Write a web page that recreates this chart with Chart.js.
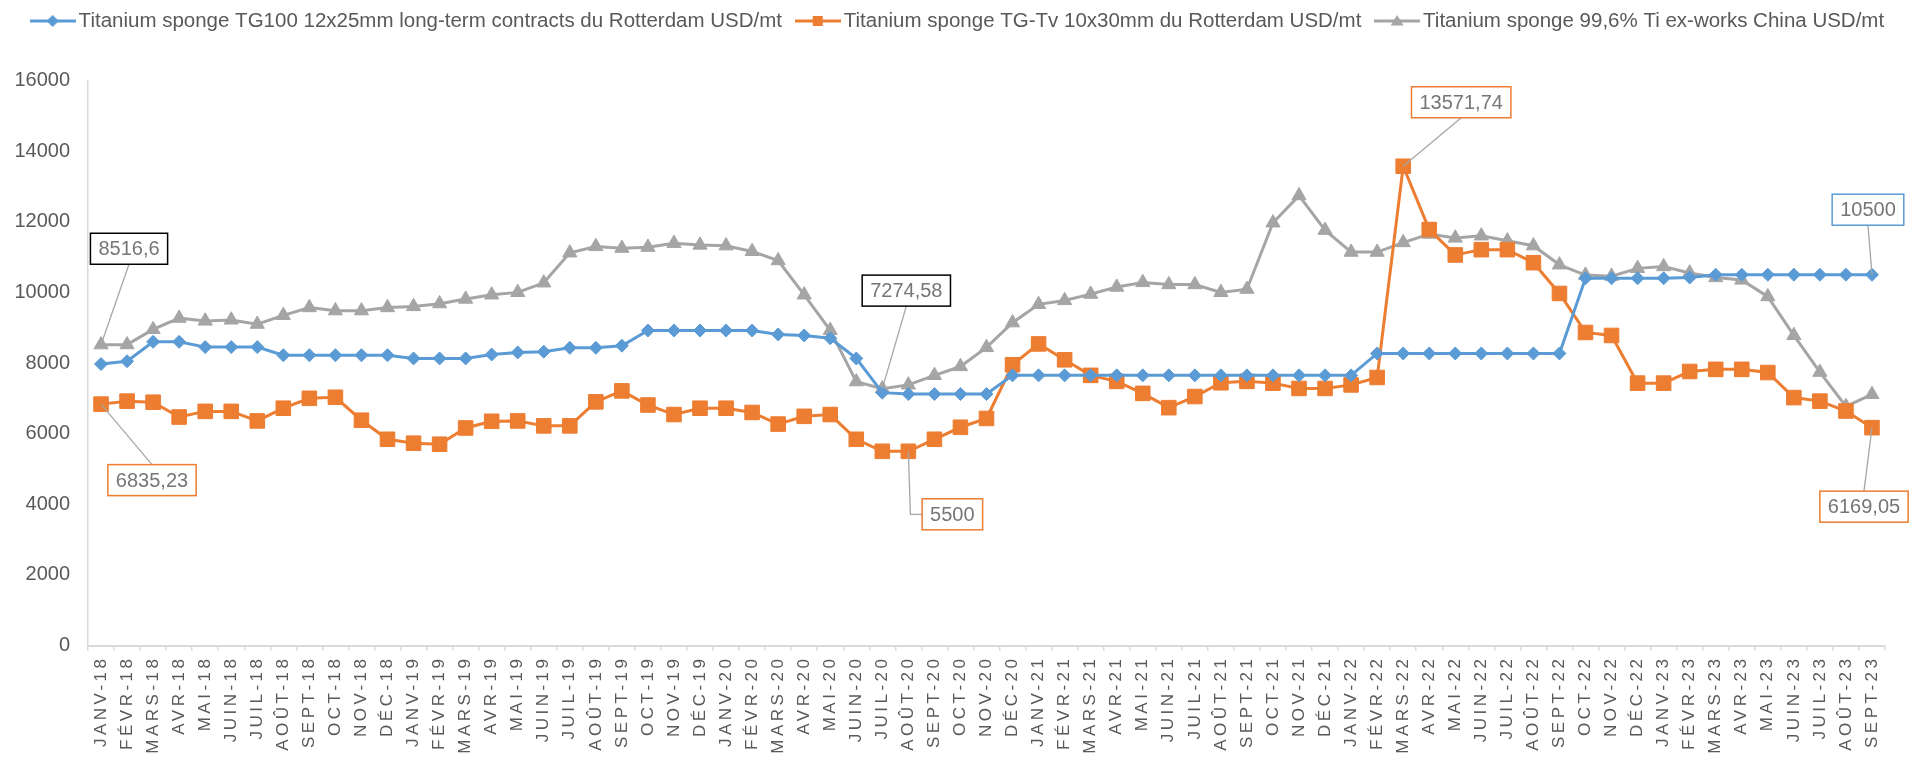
<!DOCTYPE html>
<html><head><meta charset="utf-8">
<script src="https://cdn.jsdelivr.net/npm/chart.js@4.4.0/dist/chart.umd.min.js"></script>
<style>html,body{margin:0;padding:0;background:#fff;overflow:hidden}#wrap{width:1921px;height:757px}</style>
</head><body><div id="wrap"><canvas id="c" width="1921" height="757"></canvas></div>
<script>
const categories = [
 'JANV-18','FÉVR-18','MARS-18','AVR-18','MAI-18','JUIN-18','JUIL-18','AOÛT-18','SEPT-18','OCT-18','NOV-18','DÉC-18',
 'JANV-19','FÉVR-19','MARS-19','AVR-19','MAI-19','JUIN-19','JUIL-19','AOÛT-19','SEPT-19','OCT-19','NOV-19','DÉC-19',
 'JANV-20','FÉVR-20','MARS-20','AVR-20','MAI-20','JUIN-20','JUIL-20','AOÛT-20','SEPT-20','OCT-20','NOV-20','DÉC-20',
 'JANV-21','FÉVR-21','MARS-21','AVR-21','MAI-21','JUIN-21','JUIL-21','AOÛT-21','SEPT-21','OCT-21','NOV-21','DÉC-21',
 'JANV-22','FÉVR-22','MARS-22','AVR-22','MAI-22','JUIN-22','JUIL-22','AOÛT-22','SEPT-22','OCT-22','NOV-22','DÉC-22',
 'JANV-23','FÉVR-23','MARS-23','AVR-23','MAI-23','JUIN-23','JUIL-23','AOÛT-23','SEPT-23'
];
const seriesNames = [
 'Titanium sponge TG100 12x25mm long-term contracts du Rotterdam USD/mt',
 'Titanium sponge TG-Tv 10x30mm du Rotterdam USD/mt',
 'Titanium sponge 99,6% Ti ex-works China USD/mt'
];
const tg100 = [
 7970,8050,8600,8600,8450,8450,8450,8220,8220,8220,8220,8220,
 8130,8130,8130,8240,8300,8320,8430,8430,8490,8920,8920,8920,
 8920,8920,8810,8780,8700,8130,7160,7120,7120,7120,7120,7650,
 7650,7650,7650,7650,7650,7650,7650,7650,7650,7650,7650,7650,
 7650,8270,8270,8270,8270,8270,8270,8270,8270,10400,10400,10400,
 10400,10420,10500,10500,10500,10500,10500,10500,10500
];
const tgTv = [
 6835.23,6920,6890,6470,6630,6630,6360,6720,7000,7030,6380,5840,
 5730,5700,6160,6350,6360,6220,6220,6900,7210,6810,6540,6720,
 6720,6600,6270,6490,6540,5840,5500,5500,5840,6180,6430,7950,
 8540,8090,7650,7480,7140,6735,7050,7440,7480,7430,7280,7280,
 7380,7590,13571.74,11780,11060,11210,11210,10840,9970,8865,8780,7430,
 7430,7760,7820,7820,7730,7020,6920,6640,6169.05
];
const china = [
 8516.6,8520,8950,9270,9190,9220,9100,9350,9570,9480,9480,9570,
 9600,9680,9810,9930,10000,10270,11120,11300,11250,11280,11390,11340,
 11320,11160,10900,9930,8925,7470,7274.58,7380,7650,7900,8440,9140,
 9660,9770,9950,10150,10280,10220,10220,10000,10090,11970,12740,11760,
 11140,11140,11410,11650,11540,11600,11460,11320,10780,10490,10460,10680,
 10730,10550,10420,10350,9880,8780,7740,6770,7110
];
const yTicks = [0,2000,4000,6000,8000,10000,12000,14000,16000];

const BLUE='#5B9BD5', ORANGE='#ED7D31', GREY='#A5A5A5';
const FONT="'Liberation Sans', Arial, sans-serif";

function legendIcon(color, shape){
  const c=document.createElement('canvas'); c.width=46; c.height=20;
  const x=c.getContext('2d');
  x.strokeStyle=color; x.lineWidth=3; x.beginPath(); x.moveTo(0,10); x.lineTo(46,10); x.stroke();
  x.fillStyle=color; x.beginPath();
  if(shape==='d'){ x.moveTo(23,4); x.lineTo(29,10); x.lineTo(23,16); x.lineTo(17,10); }
  else if(shape==='s'){ x.rect(18,5,10,10); }
  else { x.moveTo(23,4); x.lineTo(29.5,14.5); x.lineTo(16.5,14.5); }
  x.closePath(); x.fill();
  return c;
}
const icons=[legendIcon(BLUE,'d'),legendIcon(ORANGE,'s'),legendIcon(GREY,'t')];

const callouts=[
 {series:2,index:0,dx:28,dy:-96,edge:'#000000',leader:'bottom'},
 {series:1,index:0,dx:51,dy:76,edge:ORANGE,leader:'top'},
 {series:2,index:30,dx:24,dy:-98,edge:'#000000',leader:'bottom'},
 {series:1,index:31,dx:44,dy:63,edge:ORANGE,leader:'elbow'},
 {series:1,index:50,dx:58,dy:-64,edge:ORANGE,leader:'bottom'},
 {series:0,index:68,dx:-4,dy:-65,edge:BLUE,leader:'bottom'},
 {series:1,index:68,dx:-8,dy:79,edge:ORANGE,leader:'top'}
];

const calloutPlugin={
 id:'callouts',
 beforeInit(chart){
   const lg=chart.legend;
   const f=lg.fit; lg.fit=function(){ f.call(this); this.height+=30; };
   const d=lg.draw; lg.draw=function(){ const ctx=this.ctx; ctx.save(); ctx.translate(0,-9.25); d.apply(this,arguments); ctx.restore(); };
 },
 beforeDraw(chart){
   const s=chart.scales.x;
   if(!s._ls){ const o=s.drawLabels; s.drawLabels=function(a){ const ctx=this.ctx; ctx.save(); ctx.letterSpacing='3.5px'; o.call(this,a); ctx.restore(); }; s._ls=true; }
 },
 afterDatasetsDraw(chart){
   const ctx=chart.ctx;
   ctx.save();
   ctx.font='20px '+FONT;
   callouts.forEach(c=>{
     const pt=chart.getDatasetMeta(c.series).data[c.index];
     const val=chart.data.datasets[c.series].data[c.index];
     const txt=String(val).replace('.',',');
     const w=ctx.measureText(txt).width+16, h=31;
     const cx=pt.x+c.dx, cy=pt.y+c.dy;
     ctx.strokeStyle='#A6A6A6'; ctx.lineWidth=1.3; ctx.beginPath();
     ctx.moveTo(pt.x,pt.y);
     if(c.leader==='bottom') ctx.lineTo(cx,cy+h/2);
     else if(c.leader==='top') ctx.lineTo(cx,cy-h/2);
     else { ctx.lineTo(pt.x+2,cy); ctx.lineTo(cx-w/2,cy); }
     ctx.stroke();
     ctx.fillStyle='#ffffff'; ctx.fillRect(cx-w/2,cy-h/2,w,h);
     ctx.strokeStyle=c.edge; ctx.lineWidth=1.5; ctx.strokeRect(cx-w/2,cy-h/2,w,h);
     ctx.fillStyle='#767676'; ctx.textAlign='center'; ctx.textBaseline='middle';
     ctx.fillText(txt,cx,cy+1);
   });
   ctx.restore();
 }
};

function ds(label,data,color,style,r){
  return {label,data,borderColor:color,backgroundColor:color,borderWidth:3,tension:0,
    pointStyle:style,pointRadius:r,pointHoverRadius:r,pointBackgroundColor:color,pointBorderColor:color,pointBorderWidth:1};
}

new Chart(document.getElementById('c'),{
 type:'line',
 data:{labels:categories,datasets:[
   ds(seriesNames[0],tg100,BLUE,'rectRot',6.5),
   ds(seriesNames[1],tgTv,ORANGE,'rect',10.3),
   ds(seriesNames[2],china,GREY,'triangle',8.2)
 ]},
 options:{
   responsive:false,animation:false,devicePixelRatio:1,
   layout:{padding:{left:0,right:0,top:0,bottom:0}},
   plugins:{
     tooltip:{enabled:false},
     legend:{display:true,position:'top',
       labels:{usePointStyle:true,pointStyleWidth:31.5,padding:20,color:'#595959',font:{family:FONT,size:20.5},
         generateLabels(chart){
           const items=Chart.defaults.plugins.legend.labels.generateLabels(chart);
           items.forEach((it,i)=>{it.pointStyle=icons[i];});
           return items;
         }}}
   },
   scales:{
     x:{type:'category',offset:true,
       grid:{display:true,offset:true,drawOnChartArea:false,drawTicks:true,tickLength:5,color:'#D9D9D9',lineWidth:1.5},
       border:{display:true,color:'#D9D9D9',width:2},
       ticks:{autoSkip:false,maxRotation:90,minRotation:90,color:'#595959',font:{family:FONT,size:17},padding:5},
       afterFit(s){s.height=111.5;}
     },
     y:{min:0,max:16000,
       afterBuildTicks(s){s.ticks=yTicks.map(v=>({value:v}));},
       grid:{display:false,drawTicks:false},
       border:{display:true,color:'#D9D9D9',width:1.5},
       ticks:{color:'#595959',font:{family:FONT,size:20},padding:18,callback:v=>String(v)},
       afterFit(s){s.width=88;}
     },
     y2:{type:'linear',position:'right',display:true,
       grid:{display:false,drawTicks:false},border:{display:false},ticks:{display:false},
       afterFit(s){s.width=36;}
     }
   }
 },
 plugins:[calloutPlugin]
});
</script></body></html>
